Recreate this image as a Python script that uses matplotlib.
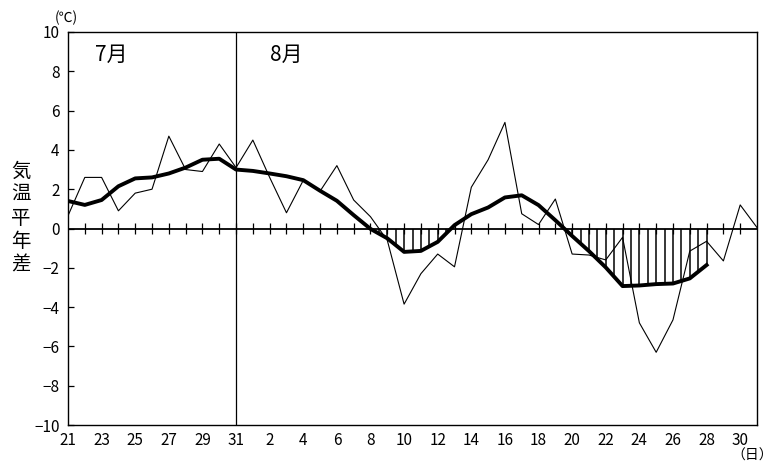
import numpy as np
import matplotlib
matplotlib.use("Agg")
import matplotlib.pyplot as plt

plt.rcParams['font.family'] = ['Noto Sans CJK JP', 'DejaVu Sans']

# Day labels (Jul 21 .. Aug 31)
days = [21, 22, 23, 24, 25, 26, 27, 28, 29, 30, 31] + list(range(1, 32))
# Daily temperature anomaly (thin line)
daily = [0.65, 2.6, 2.6, 0.9, 1.8, 2.0, 4.7, 3.0, 2.9, 4.3, 3.1,
         4.5, 2.6, 0.8, 2.45, 1.9, 3.2, 1.45, 0.6, -0.6, -3.85,
         -2.3, -1.3, -1.95, 2.1, 3.5, 5.4, 0.75, 0.2, 1.5, -1.3,
         -1.35, -1.6, -0.45, -4.8, -6.3, -4.65, -1.15, -0.65, -1.65, 1.2, 0.05]
# 5-day running mean (thick line), Jul 21 .. Aug 28
running = [1.4, 1.2, 1.45, 2.15, 2.55, 2.6, 2.8, 3.1, 3.5, 3.55, 3.0,
           2.93, 2.8, 2.66, 2.46, 1.92, 1.41, 0.68, -0.02, -0.5, -1.19,
           -1.14, -0.68, 0.17, 0.73, 1.07, 1.58, 1.69, 1.19, 0.42, -0.38,
           -1.15, -1.98, -2.93, -2.9, -2.83, -2.8, -2.54, -1.86]
xtick_labels = [str(d) for d in days[::2]]
yticks = list(range(-10, 11, 2))

x = np.arange(len(days))
xr = np.arange(len(running))

fig = plt.figure(figsize=(7.79, 4.67), dpi=100)
ax = fig.add_axes([68/779, 1-425/467, (757-68)/779, (425-32)/467])

ax.set_xlim(0, len(days) - 1)
ax.set_ylim(-10, 10)

# hatch: vertical lines at half-day steps where running mean is negative
hx = np.arange(0, len(running) - 1 + 0.001, 0.5)
hy = np.interp(hx, xr, running)
neg = hy < 0
ax.vlines(hx[neg], hy[neg], 0, color='black', lw=1.1, zorder=2)

# zero line and day ticks on it
ax.axhline(0, color='black', lw=1.3, zorder=3)
ax.vlines(x[1:-1], -0.27, 0.27, color='black', lw=0.9, zorder=3)

# month separator
ax.axvline(10, color='black', lw=0.9, zorder=3)

ax.plot(x, daily, color='black', lw=0.8, zorder=4)
ax.plot(xr, running, color='black', lw=2.8, zorder=5, solid_joinstyle='round')

ax.set_yticks(yticks)
ax.set_yticklabels([str(v).replace('-', '\u2212') for v in yticks], fontsize=11)
ax.set_xticks(x[::2])
ax.set_xticklabels(xtick_labels, fontsize=11)
ax.tick_params(axis='y', direction='in', length=4, width=0.9, pad=6)
ax.tick_params(axis='x', length=0, pad=5)
for s in ax.spines.values():
    s.set_linewidth(1.0)
    s.set_color('black')

ax.text(1.6, 8.85, '7月', fontsize=15, va='center', ha='left')
ax.text(12.0, 8.85, '8月', fontsize=15, va='center', ha='left')

fig.text(55/779, 1-18/467, '(℃)', fontsize=10, ha='left', va='center')
fig.text(752/779, 1-456/467, '（日）', fontsize=10, ha='center', va='center')
fig.text(21/779, 1-218/467, '\n'.join('気温平年差'), fontsize=14,
         ha='center', va='center', linespacing=1.15)

fig.savefig('out.png', dpi=100)
